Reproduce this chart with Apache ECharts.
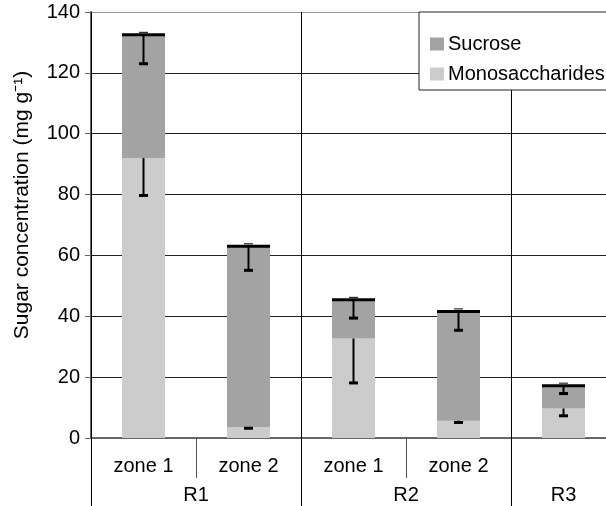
<!DOCTYPE html>
<html>
<head>
<meta charset="utf-8">
<script src="https://cdn.jsdelivr.net/npm/echarts@6/dist/echarts.min.js"></script>
<style>
html, body { margin: 0; padding: 0; background: #fff; }
#chart { width: 606px; height: 506px; }
</style>
</head>
<body>
<div id="chart"></div>
<script>
// lower level categories and the regions grouping them
const zones = ['zone 1', 'zone 2', 'zone 1', 'zone 2', ''];
const regions = ['R1', 'R2', 'R3'];
const regionSpan = [2, 2, 1];

// sugar concentration, mg g-1
const monosaccharides = [92, 3.5, 32.7, 5.7, 9.7];
const sucrose = [40.5, 59.5, 12.7, 35.9, 7.5];
// error bars (drawn downward only)
const monoErr = [12.3, 0.3, 14.6, 0.6, 2.4];
const sucroseErr = [9.5, 7.9, 6.0, 6.2, 2.6];

const yMax = 140;
const yStep = 20;

const FONT = 'Liberation Sans, Arial, Helvetica, sans-serif';
const BAR_W = 43;

// region label centres and separators, in category units
let regionCenter = {};
let separators = []; // [position, isRegion]
let start = 0;
regions.forEach((r, k) => {
    regionCenter[String(start + regionSpan[k] / 2)] = r;
    separators.push([start, 1]);
    for (let j = 1; j < regionSpan[k]; j++) separators.push([start + j, 0]);
    start += regionSpan[k];
});

let totals = sucrose.map((v, i) => v + monosaccharides[i]);
let sucroseBars = totals.map((t, i) => [i, t, t - sucroseErr[i], 1]);
let monoBars = monosaccharides.map((m, i) => [i, m, m - monoErr[i], 0]);

function renderError(params, api) {
    let top = api.coord([api.value(0), api.value(1)]);
    let low = api.coord([api.value(0), api.value(2)]);
    let x = top[0];
    let children = [
        { type: 'line', shape: { x1: x, y1: top[1], x2: x, y2: low[1] }, style: { stroke: '#000', lineWidth: 2 } },
        { type: 'line', shape: { x1: x - 4.5, y1: low[1], x2: x + 4.5, y2: low[1] }, style: { stroke: '#000', lineWidth: 3 } }
    ];
    if (api.value(3) === 1) {
        children.push({ type: 'line', shape: { x1: x - BAR_W / 2, y1: top[1], x2: x + BAR_W / 2, y2: top[1] }, style: { stroke: '#000', lineWidth: 3 } });
        children.push({ type: 'line', shape: { x1: x - 4.5, y1: top[1] - 2.5, x2: x + 4.5, y2: top[1] - 2.5 }, style: { stroke: '#000', lineWidth: 1 } });
    }
    return { type: 'group', children: children };
}

function renderSeparator(params, api) {
    let band = api.size([1, 0])[0];
    let base = api.coord([api.value(0), 0]);
    let x = Math.round(base[0] - band / 2) + 0.5;
    let yTop = api.coord([api.value(0), yMax])[1];
    if (api.value(1) === 1) {
        return { type: 'line', shape: { x1: x, y1: yTop, x2: x, y2: base[1] + 70 }, style: { stroke: '#000', lineWidth: 1 } };
    }
    return { type: 'line', shape: { x1: x, y1: base[1], x2: x, y2: base[1] + 40 }, style: { stroke: '#555', lineWidth: 1 } };
}

let myChart = echarts.init(document.getElementById('chart'));

myChart.setOption({
    animation: false,
    textStyle: { fontFamily: FONT },
    grid: { left: 91, top: 12, width: 525, height: 426, outerBoundsMode: 'none' },
    legend: {
        data: ['Sucrose', 'Monosaccharides'],
        orient: 'vertical',
        left: 419,
        top: 12,
        padding: [22, 60, 6, 11],
        itemWidth: 14,
        itemHeight: 13,
        itemGap: 10,
        icon: 'rect',
        borderColor: '#222',
        borderWidth: 1,
        backgroundColor: '#fff',
        textStyle: { fontSize: 20, color: '#000', fontFamily: FONT, padding: [0, 0, 0, -1] }
    },
    xAxis: [
        {
            type: 'category',
            data: zones,
            position: 'bottom',
            axisLine: { lineStyle: { color: '#666', width: 2 } },
            axisTick: { show: false },
            axisLabel: { color: '#000', fontSize: 20, margin: 18 },
            splitLine: { show: false }
        },
        {
            type: 'value',
            min: 0,
            max: zones.length,
            interval: 0.5,
            position: 'bottom',
            axisLine: { show: false },
            axisTick: { show: false },
            splitLine: { show: false },
            axisLabel: {
                color: '#000', fontSize: 20, margin: 47,
                formatter: v => regionCenter[String(v)] || ''
            }
        }
    ],
    yAxis: {
        type: 'value',
        min: 0,
        max: yMax,
        interval: yStep,
        name: 'Sugar concentration (mg g⁻¹)',
        nameLocation: 'middle',
        nameRotate: 90,
        nameGap: 58,
        nameTextStyle: { fontSize: 21, color: '#000', padding: [0, 0, 0, 40] },
        axisLine: { show: true, lineStyle: { color: '#666', width: 2 } },
        axisTick: { show: true, length: 6, lineStyle: { color: '#666', width: 1 } },
        axisLabel: { color: '#000', fontSize: 20, margin: 11 },
        splitLine: { lineStyle: { color: ['#666', '#222', '#222', '#222', '#222', '#222', '#222', '#999'], width: 1 } }
    },
    series: [
        {
            name: 'Monosaccharides',
            type: 'bar',
            stack: 'sugar',
            barWidth: BAR_W,
            itemStyle: { color: '#cccccc' },
            data: monosaccharides
        },
        {
            name: 'Sucrose',
            type: 'bar',
            stack: 'sugar',
            barWidth: BAR_W,
            itemStyle: { color: '#a3a3a3' },
            data: sucrose
        },
        {
            type: 'custom',
            silent: true,
            clip: false,
            renderItem: renderError,
            encode: { x: 0, y: 1 },
            data: monoBars.concat(sucroseBars),
            z: 5
        },
        {
            type: 'custom',
            silent: true,
            clip: false,
            renderItem: renderSeparator,
            encode: { x: 0, y: -1 },
            data: separators,
            z: 3
        }
    ]
});
</script>
</body>
</html>
